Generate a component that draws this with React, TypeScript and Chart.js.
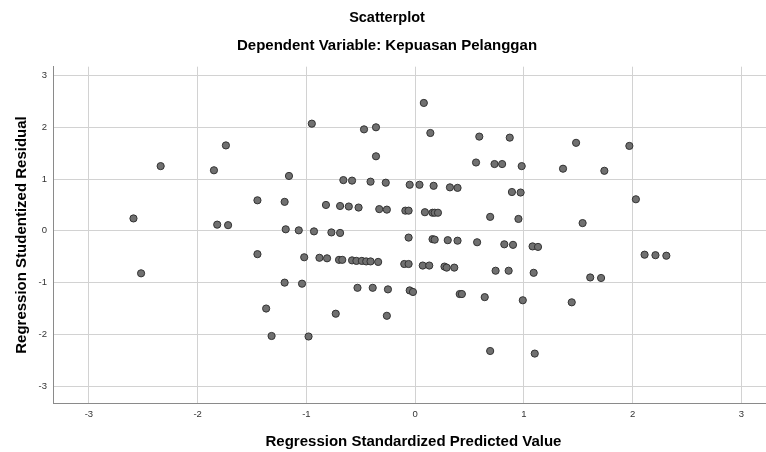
import React, { useEffect, useRef } from "react";
import { Chart, registerables } from "chart.js";

Chart.register(...registerables);

const chartTitle = "Scatterplot";
const chartSubtitle = "Dependent Variable: Kepuasan Pelanggan";
const xAxisTitle = "Regression Standardized Predicted Value";
const yAxisTitle = "Regression Studentized Residual";

const xTickValues = [-3, -2, -1, 0, 1, 2, 3];
const yTickValues = [-3, -2, -1, 0, 1, 2, 3];

const predictedValues = [
  -2.59, -2.52, -2.34, -1.85, -1.74, -1.82, -1.72, -1.45, -1.45, -1.37,
  -1.32, -1.2, -1.16, -1.19, -1.2, -1.07, -1.04, -1.02, -0.98, -0.95,
  -0.93, -0.88, -0.82, -0.81, -0.77, -0.73, -0.69, -0.7, -0.67, -0.69,
  -0.66, -0.61, -0.58, -0.58, -0.54, -0.53, -0.52, -0.49, -0.47, -0.45,
  -0.41, -0.41, -0.39, -0.36, -0.36, -0.34, -0.33, -0.27, -0.26, -0.25,
  -0.26, -0.09, -0.06, -0.1, -0.06, -0.06, -0.05, -0.05, -0.02, 0.04,
  0.08, 0.07, 0.13, 0.09, 0.14, 0.16, 0.18, 0.21, 0.17, 0.16,
  0.18, 0.27, 0.29, 0.3, 0.32, 0.36, 0.39, 0.39, 0.41, 0.43,
  0.56, 0.57, 0.59, 0.64, 0.69, 0.69, 0.73, 0.74, 0.8, 0.82,
  0.86, 0.87, 0.89, 0.9, 0.95, 0.97, 0.98, 0.99, 1.08, 1.13,
  1.09, 1.1, 1.36, 1.44, 1.48, 1.54, 1.61, 1.71, 1.74, 1.97,
  2.03, 2.11, 2.21, 2.31,
];

const residualValues = [
  0.24, -0.82, 1.25, 1.17, 1.65, 0.12, 0.11, 0.59, -0.45, -1.5,
  -2.03, 0.56, 1.06, 0.03, -1.0, 0.01, -1.02, -0.51, -2.04, 2.07,
  -0.01, -0.52, 0.5, -0.53, -0.03, -1.6, -0.04, -0.56, -0.56, 0.48,
  0.98, 0.47, 0.97, -0.57, -0.58, -1.1, 0.45, -0.58, 1.96, -0.59,
  0.95, -0.59, -1.1, 2.0, 1.44, -0.6, 0.42, 0.93, 0.41, -1.13,
  -1.64, 0.39, 0.39, -0.64, -0.64, -0.13, 0.89, -1.15, -1.18, 0.89,
  2.47, -0.67, -0.67, 0.36, 1.89, 0.35, 0.35, 0.35, 0.87, -0.16,
  -0.17, -0.69, -0.71, -0.18, 0.84, -0.71, 0.83, -0.19, -1.22, -1.22,
  1.32, -0.22, 1.82, -1.28, 0.27, -2.32, 1.29, -0.77, 1.29, -0.26,
  -0.77, 1.8, 0.75, -0.27, 0.23, 0.74, 1.25, -1.34, -0.3, -0.31,
  -0.81, -2.37, 1.2, -1.38, 1.7, 0.15, -0.9, -0.91, 1.16, 1.64,
  0.61, -0.46, -0.47, -0.48,
];

const FONT = "'Liberation Sans', Arial, Helvetica, sans-serif";

export default function App() {
  const canvasRef = useRef<HTMLCanvasElement | null>(null);

  useEffect(() => {
    if (!canvasRef.current) return;
    const points = predictedValues.map((x, i) => ({ x, y: residualValues[i] }));
    const chart = new Chart(canvasRef.current, {
      type: "scatter",
      data: {
        datasets: [
          {
            data: points,
            backgroundColor: "#707070",
            borderColor: "#333333",
            borderWidth: 1,
            pointRadius: 3.6,
            pointHoverRadius: 3.6,
          },
        ],
      },
      options: {
        animation: false,
        responsive: false,
        devicePixelRatio: 1,
        layout: { padding: { top: 0, left: 0, right: 6, bottom: 0 } },
        plugins: {
          legend: { display: false },
          tooltip: { enabled: false },
          title: {
            display: true,
            text: chartTitle,
            color: "#000",
            font: { family: FONT, size: 14.5, weight: "bold" },
            padding: { top: 9, bottom: 3 },
          },
          subtitle: {
            display: true,
            text: chartSubtitle,
            color: "#000",
            font: { family: FONT, size: 15, weight: "bold" },
            padding: { top: 7.3, bottom: 12 },
          },
        },
        scales: {
          x: {
            type: "linear",
            min: -3.33,
            max: 3.3,
            afterFit: (scale: any) => {
              scale.height = 48.7;
            },
            afterBuildTicks: (scale: any) => {
              scale.ticks = xTickValues.map((v) => ({ value: v }));
            },
            ticks: {
              color: "#333",
              font: { family: FONT, size: 9.5 },
              padding: 5,
              maxRotation: 0,
              includeBounds: false,
            },
            grid: { color: "#d2d2d2", lineWidth: 1, drawTicks: false },
            border: { display: true, color: "#8a8a8a", width: 1 },
            title: {
              display: true,
              text: xAxisTitle,
              color: "#000",
              font: { family: FONT, size: 15, weight: "bold" },
              padding: { top: 0, bottom: 1.3 },
            },
          },
          y: {
            type: "linear",
            min: -3.33,
            max: 3.17,
            afterFit: (scale: any) => {
              scale.width = 53;
            },
            afterBuildTicks: (scale: any) => {
              scale.ticks = yTickValues.map((v) => ({ value: v }));
            },
            ticks: {
              color: "#333",
              font: { family: FONT, size: 9.5 },
              padding: 6,
              includeBounds: false,
            },
            grid: { color: "#d2d2d2", lineWidth: 1, drawTicks: false },
            border: { display: true, color: "#8a8a8a", width: 1 },
            title: {
              display: true,
              text: yAxisTitle,
              color: "#000",
              font: { family: FONT, size: 15, weight: "bold" },
              padding: { top: 13, bottom: 0 },
            },
          },
        },
      },
    });
    return () => chart.destroy();
  }, []);

  return (
    <div
      style={{
        position: "absolute",
        left: 0,
        top: 0,
        width: 766,
        height: 452,
        overflow: "hidden",
        background: "#fff",
      }}
    >
      <canvas ref={canvasRef} width={780} height={452} style={{ display: "block" }} />
    </div>
  );
}
